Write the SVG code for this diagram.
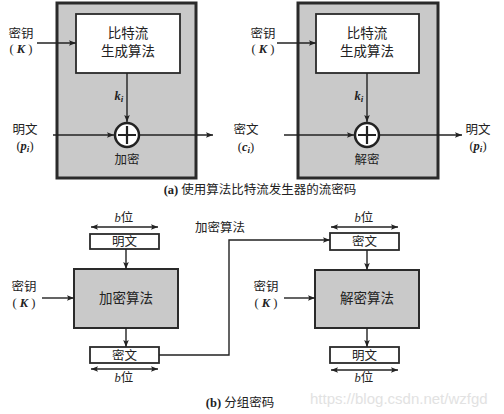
<svg xmlns="http://www.w3.org/2000/svg" width="504" height="414" viewBox="0 0 504 414">
<defs>
<marker id="ah" viewBox="0 0 10 10" refX="10" refY="5" markerWidth="9" markerHeight="7" markerUnits="userSpaceOnUse" orient="auto-start-reverse">
<path d="M0,1 L10,5 L0,9 L2,5 Z" fill="#222"/>
</marker>
</defs>
<style>
.t{font-family:"Liberation Serif","Noto Sans CJK SC",serif;font-size:12.5px;fill:#222;text-anchor:middle}
.bt{font-family:"Liberation Serif","Noto Sans CJK SC",serif;font-size:13.5px;fill:#222;text-anchor:middle}
.i{font-style:italic;font-weight:bold}
.outer{fill:#c9c9c9;stroke:#2a2a2a;stroke-width:3}
.white{fill:#fff;stroke:#2a2a2a;stroke-width:1.8}
.gray{fill:#c9c9c9;stroke:#2a2a2a;stroke-width:2}
.ln{fill:none;stroke:#222;stroke-width:1.4}
.wm{font-family:"Liberation Sans",sans-serif;font-size:15px;fill:#e2e2e2}
</style>
<rect width="504" height="414" fill="#fff"/>

<g id="enc-stream">
<rect class="outer" x="57" y="3" width="139" height="175"/>
<rect class="white" x="76" y="14" width="104" height="59"/>
<text class="bt" x="128" y="38">比特流</text>
<text class="bt" x="128" y="56">生成算法</text>
<circle cx="127" cy="135" r="12" fill="#fff" stroke="#222" stroke-width="2.5"/>
<path d="M118,135 H136 M127,126 V144" stroke="#222" stroke-width="2.2"/>
<text class="t" x="127" y="164">加密</text>
</g>
<g id="dec-stream">
<rect class="outer" x="298" y="3" width="140" height="175"/>
<rect class="white" x="316" y="14" width="103" height="59"/>
<text class="bt" x="367" y="38">比特流</text>
<text class="bt" x="367" y="56">生成算法</text>
<circle cx="367" cy="135" r="12" fill="#fff" stroke="#222" stroke-width="2.5"/>
<path d="M358,135 H376 M367,126 V144" stroke="#222" stroke-width="2.2"/>
<text class="t" x="367" y="164">解密</text>
</g>

<g id="labels-a">
<text class="t" x="21" y="38">密钥</text>
<text class="t" x="21" y="53">( <tspan class="i">K</tspan> )</text>
<text class="t" x="25" y="134">明文</text>
<text class="t" x="25" y="150">(<tspan class="i">p<tspan font-size="9" dy="2">i</tspan></tspan><tspan dy="-2">)</tspan></text>
<text class="t i" x="119" y="100">k<tspan font-size="9" dy="2">i</tspan></text>
<text class="t" x="263" y="38">密钥</text>
<text class="t" x="263" y="53">( <tspan class="i">K</tspan> )</text>
<text class="t" x="246" y="134">密文</text>
<text class="t" x="246" y="151">(<tspan class="i">c<tspan font-size="9" dy="2">i</tspan></tspan><tspan dy="-2">)</tspan></text>
<text class="t i" x="359" y="100">k<tspan font-size="9" dy="2">i</tspan></text>
<text class="t" x="478" y="134">明文</text>
<text class="t" x="478" y="150">(<tspan class="i">p<tspan font-size="9" dy="2">i</tspan></tspan><tspan dy="-2">)</tspan></text>
<text class="t" x="260" y="194"><tspan font-weight="bold">(a)</tspan> 使用算法比特流发生器的流密码</text>
</g>

<g id="b-plain1">
<rect class="white" x="90" y="234" width="69" height="15"/>
<text class="t" x="124.5" y="246">明文</text>
</g>
<g id="b-enc">
<rect class="gray" x="74" y="269" width="104" height="59"/>
<text class="bt" x="126" y="303">加密算法</text>
</g>
<g id="b-cipher1">
<rect class="white" x="90" y="347" width="69" height="16"/>
<text class="t" x="124.5" y="360">密文</text>
</g>
<g id="b-cipher2">
<rect class="white" x="330" y="233" width="69" height="17"/>
<text class="t" x="364.5" y="246">密文</text>
</g>
<g id="b-dec">
<rect class="gray" x="315" y="270" width="104" height="58"/>
<text class="bt" x="367" y="303">解密算法</text>
</g>
<g id="b-plain2">
<rect class="white" x="330" y="347" width="69" height="16"/>
<text class="t" x="364.5" y="360">明文</text>
</g>

<g id="labels-b">
<text class="t" x="124" y="222"><tspan font-style="italic">b</tspan>位</text>
<text class="t" x="124" y="382"><tspan font-style="italic">b</tspan>位</text>
<text class="t" x="364" y="222"><tspan font-style="italic">b</tspan>位</text>
<text class="t" x="364" y="382"><tspan font-style="italic">b</tspan>位</text>
<text class="t" x="24" y="291">密钥</text>
<text class="t" x="24" y="307">( <tspan class="i">K</tspan> )</text>
<text class="t" x="266" y="291">密钥</text>
<text class="t" x="266" y="307">( <tspan class="i">K</tspan> )</text>
<text class="t" x="220" y="232">加密算法</text>
<text class="t" x="240" y="407"><tspan font-weight="bold">(b)</tspan> 分组密码</text>
<text class="wm" x="310" y="404">https://blog.csdn.net/wzfgd</text>
</g>

<g id="connectors">
<line class="ln" x1="37" y1="43" x2="76" y2="43" marker-end="url(#ah)"/>
<line class="ln" x1="127" y1="73" x2="127" y2="122" marker-end="url(#ah)"/>
<line class="ln" x1="53" y1="135" x2="114" y2="135" marker-end="url(#ah)"/>
<line class="ln" x1="139" y1="135" x2="213" y2="135" marker-end="url(#ah)"/>
<line class="ln" x1="277" y1="43" x2="316" y2="43" marker-end="url(#ah)"/>
<line class="ln" x1="367" y1="73" x2="367" y2="122" marker-end="url(#ah)"/>
<line class="ln" x1="284" y1="135" x2="354" y2="135" marker-end="url(#ah)"/>
<line class="ln" x1="379" y1="135" x2="462" y2="135" marker-end="url(#ah)"/>

<line class="ln" x1="91" y1="227" x2="158" y2="227" stroke-width="1" marker-start="url(#ah)" marker-end="url(#ah)"/>
<line class="ln" x1="126" y1="249" x2="126" y2="269" marker-end="url(#ah)"/>
<line class="ln" x1="42" y1="298" x2="74" y2="298" marker-end="url(#ah)"/>
<line class="ln" x1="126" y1="328" x2="126" y2="347" marker-end="url(#ah)"/>
<line class="ln" x1="91" y1="369" x2="158" y2="369" stroke-width="1" marker-start="url(#ah)" marker-end="url(#ah)"/>
<polyline class="ln" points="159,355 229,355 229,240 330,240" marker-end="url(#ah)"/>
<line class="ln" x1="331" y1="227" x2="398" y2="227" stroke-width="1" marker-start="url(#ah)" marker-end="url(#ah)"/>
<line class="ln" x1="367" y1="250" x2="367" y2="270" marker-end="url(#ah)"/>
<line class="ln" x1="284" y1="298" x2="315" y2="298" marker-end="url(#ah)"/>
<line class="ln" x1="367" y1="328" x2="367" y2="347" marker-end="url(#ah)"/>
<line class="ln" x1="331" y1="370" x2="398" y2="370" stroke-width="1" marker-start="url(#ah)" marker-end="url(#ah)"/>
</g>
</svg>
